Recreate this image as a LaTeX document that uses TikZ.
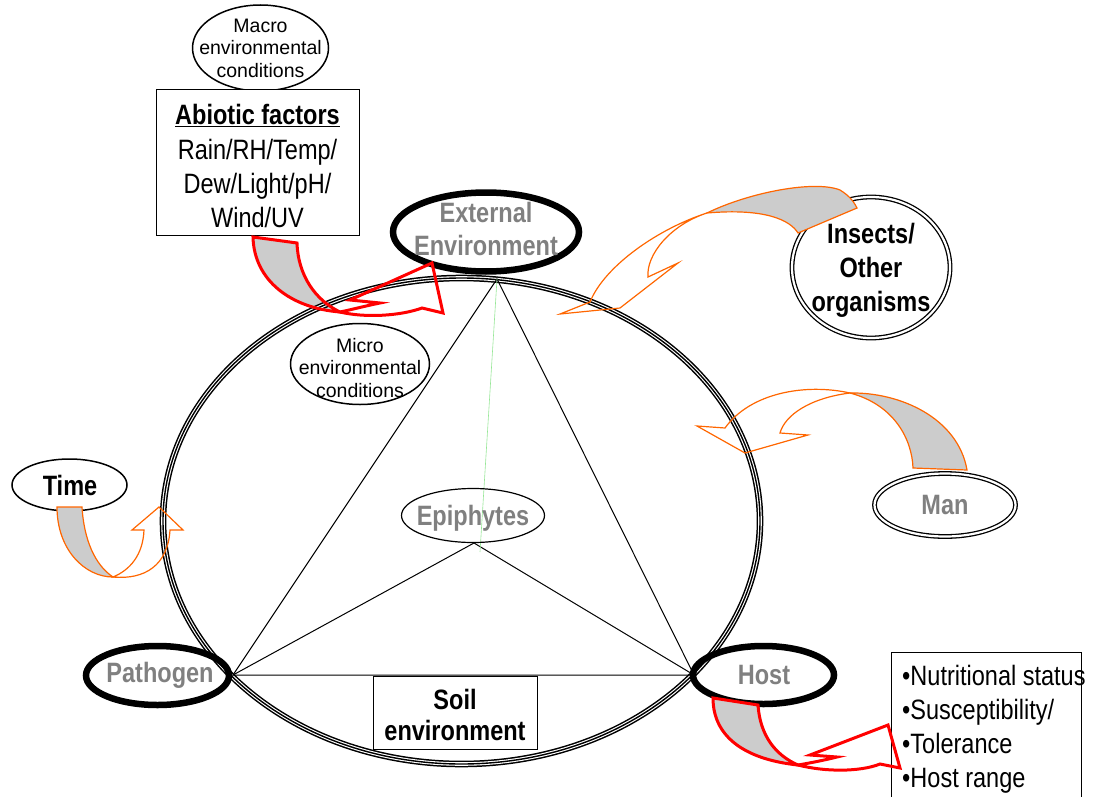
\documentclass[tikz,border=0pt]{standalone}
\usepackage{fontspec}
\setmainfont{Liberation Sans}
\newfontfamily\narrowsans{Liberation Sans}[FakeStretch=0.84]
\usetikzlibrary{shapes.geometric}
\definecolor{lblgray}{RGB}{128,128,128}
\definecolor{arrorange}{RGB}{255,102,0}
\definecolor{ribbon}{RGB}{204,204,204}
\definecolor{axisgreen}{RGB}{150,230,150}
\newcommand\lblfont{\narrowsans\fontsize{28}{34}\selectfont}
\newcommand\soilfont{\narrowsans\fontsize{28}{31}\selectfont}
\newcommand\extfont{\narrowsans\fontsize{28}{33}\selectfont}
\newcommand\notefont{\fontsize{19.5}{22.5}\selectfont}

\begin{document}
\begin{tikzpicture}[x=1pt,y=-1pt,
  lbl/.style={font=\lblfont\bfseries, inner sep=0pt, align=center},
  graylbl/.style={lbl, text=lblgray},
  note/.style={font=\notefont, inner sep=0pt, align=center},
  boxtext/.style={font=\lblfont, inner sep=0pt, align=center},
  thinell/.style={ellipse, draw, line width=1.5pt, inner sep=0pt},
  thickell/.style={ellipse, draw, line width=6.5pt, inner sep=0pt},
  dblell/.style={ellipse, draw, double, double distance=2.2pt, line width=1.3pt, inner sep=0pt},
  infobox/.style={rectangle, draw, line width=0.8pt, fill=white, inner sep=0pt},
  redarrow/.style={draw=red, line width=3pt, line join=miter},
  orarrow/.style={draw=arrorange, line width=1.2pt, line join=miter},
  ribbonfill/.style={fill=ribbon},
  edge/.style={line width=1pt}
]
\useasboundingbox (0,0) rectangle (1094,797);

% key points of the disease triangle
\coordinate (ringc) at (461.5,521);
\coordinate (apex) at (497,279);
\coordinate (pl) at (233,675);
\coordinate (pr) at (694,675);
\coordinate (ctr) at (474,543);
\coordinate (gend) at (480,552);

% underside of the abiotic ribbon arrow (lies under the ring)
\fill[ribbonfill] (253,237) .. controls (254,280) and (290,308) .. (340,312)
  .. controls (315,300) and (298,275) .. (297,243) -- cycle;

% the triple ring
\draw[line width=6.6pt] (ringc) ellipse [x radius=298.5pt, y radius=243pt];
\draw[line width=3.6pt, white] (ringc) ellipse [x radius=298.5pt, y radius=243pt];
\draw[line width=1.4pt] (ringc) ellipse [x radius=298.5pt, y radius=243pt];

% triangle
\draw[edge] (apex) -- (pl) -- (pr) -- cycle;
\draw[edge] (pl) -- (ctr) -- (pr);
\draw[axisgreen, line width=0.6pt] (apex) -- (gend);

% ellipses and boxes
\node[thinell, minimum width=136, minimum height=86] (macro) at (260.5,48) {};
\node[infobox, minimum width=203, minimum height=146] (abiotic) at (257.5,162) {};
\node[thickell, fill=white, minimum width=186, minimum height=79] (ext) at (486,232) {};
\node[dblell, minimum width=158, minimum height=141] (insects) at (871,267.5) {};
\node[thinell, minimum width=139, minimum height=81] (micro) at (360,364) {};
\node[dblell, minimum width=141, minimum height=63] (man) at (945,505) {};
\node[thinell, minimum width=115, minimum height=52] (time) at (69.5,485) {};
\node[thinell, line width=1.2pt, minimum width=143, minimum height=54] (epi) at (473,515.5) {};
\node[thickell, minimum width=143, minimum height=59] (path) at (157.5,675.5) {};
\node[thickell, minimum width=141, minimum height=58] (host) at (763.5,675) {};
\node[infobox, minimum width=164, minimum height=73] (soil) at (455,712.5) {};
\node[infobox, minimum width=190, minimum height=170, anchor=north west] (hostbox) at (891,652) {};

% ribbon undersides
\fill[ribbonfill] (707,213) .. controls (750,192) and (815,180) .. (840,190)
  .. controls (848,195) and (853,200) .. (857,208) -- (798,233)
  .. controls (790,220) and (765,208) .. (707,213) -- cycle;
\fill[ribbonfill] (850,393) .. controls (900,392) and (958,418) .. (967,470) -- (913,468)
  .. controls (912,440) and (895,405) .. (850,393) -- cycle;
\fill[ribbonfill] (57,507) .. controls (57,550) and (85,577) .. (113,577)
  .. controls (95,565) and (84,540) .. (82,507) -- cycle;
\fill[ribbonfill] (713,698) .. controls (713,740) and (750,760) .. (798,765)
  .. controls (775,755) and (760,735) .. (758,705) -- cycle;

% abiotic factors -> external environment
\draw[redarrow] (253,237) .. controls (254,280) and (290,308) .. (340,312)
  .. controls (315,300) and (298,275) .. (297,243) -- cycle;
\draw[redarrow] (340,312) .. controls (365,318) and (400,316) .. (422,308)
  -- (443,313) -- (432,263) -- (350,300) -- (380,303)
  .. controls (365,306) and (350,310) .. (340,312) -- cycle;

% insects -> ring
\draw[orarrow] (707,213) .. controls (750,192) and (815,180) .. (840,190)
  .. controls (848,195) and (853,200) .. (857,208) -- (798,233)
  .. controls (790,220) and (765,208) .. (707,213) -- cycle;
\draw[orarrow] (707,213) .. controls (660,228) and (605,265) .. (590,302)
  -- (560,314) -- (620,308) -- (678,263) -- (648,277)
  .. controls (646,255) and (670,225) .. (707,213) -- cycle;

% man -> ring
\draw[orarrow] (850,393) .. controls (900,392) and (958,418) .. (967,470) -- (913,468)
  .. controls (912,440) and (895,405) .. (850,393) -- cycle;
\draw[orarrow] (850,393) .. controls (805,383) and (750,393) .. (725,428)
  -- (697,426) -- (745,453) -- (808,435) -- (780,433)
  .. controls (785,415) and (810,398) .. (850,393) -- cycle;

% time -> ring
\draw[orarrow] (57,507) .. controls (57,550) and (85,577) .. (113,577)
  .. controls (95,565) and (84,540) .. (82,507) -- cycle;
\draw[orarrow] (113,577) .. controls (145,580) and (168,565) .. (170,530)
  -- (183,530) -- (159,507) -- (132,530) -- (144,530)
  .. controls (143,555) and (130,570) .. (113,577) -- cycle;

% host -> host factors
\draw[redarrow] (713,698) .. controls (713,740) and (750,760) .. (798,765)
  .. controls (775,755) and (760,735) .. (758,705) -- cycle;
\draw[redarrow] (798,765) .. controls (825,772) and (860,772) .. (880,764)
  -- (900,768) -- (888,725) -- (810,755) -- (837,757)
  .. controls (825,760) and (810,763) .. (798,765) -- cycle;

% texts
\node[note] (macrot) at (macro) {Macro\\environmental\\conditions};
\node[boxtext] (abiotict) at (257.5,166) {\textbf{\underline{Abiotic factors}}\\[1pt]Rain/RH/Temp/\\Dew/Light/pH/\\Wind/UV};
\node[graylbl, font=\extfont\bfseries] (extt) at (486,229) {External\\Environment};
\node[lbl] (insectst) at (871,270) {Insects/\\Other\\organisms};
\node[note] (microt) at (360,368) {Micro\\environmental\\conditions};
\node[graylbl] (mant) at (945,505) {Man};
\node[lbl] (timet) at (70,485) {Time};
\node[graylbl] (epit) at (473,518) {Epiphytes};
\node[graylbl] (patht) at (160,675) {Pathogen};
\node[graylbl] (hostt) at (764,675) {Host};
\node[lbl, font=\soilfont\bfseries] (soilt) at (455,715) {Soil\\environment};
\node[boxtext, align=left, anchor=north west] (hostfactors) at (902,665)
  {•Nutritional status\\•Susceptibility/\\•Tolerance\\•Host range};
\end{tikzpicture}
\end{document}
